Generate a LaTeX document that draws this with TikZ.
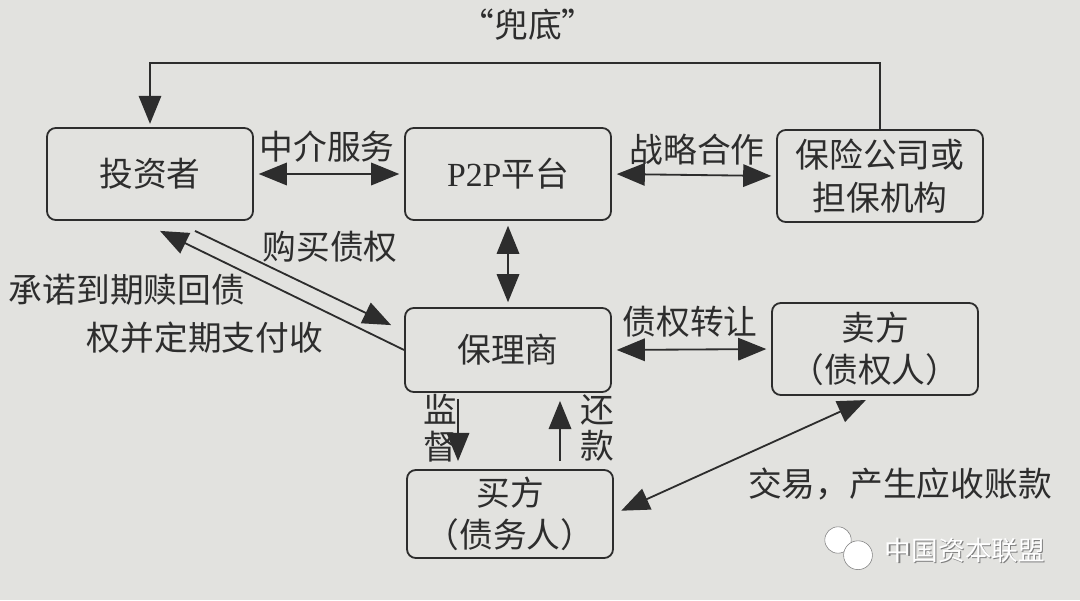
\documentclass[tikz,border=0pt]{standalone}
\usepackage{fontspec}
\setmainfont{Liberation Serif}
\newfontfamily\cjk{Noto Sans CJK SC}
\usetikzlibrary{arrows.meta}
\definecolor{paper}{RGB}{226,226,223}
\definecolor{ink}{RGB}{45,45,45}

\begin{document}
\begin{tikzpicture}[
        box/.style={draw=ink, line width=1.3pt, rounded corners=0.22cm, minimum width=5.15cm, minimum height=2.3cm, align=center, text=ink, font=\cjk\fontsize{24}{30}\selectfont},
        lbl/.style={text=ink, font=\cjk\fontsize{24}{26}\selectfont, align=center, inner sep=0pt},
        link/.style={draw=ink, line width=1.3pt, arrows={-Triangle[length=20pt,width=16pt]}},
        both/.style={draw=ink, line width=1.3pt, arrows={Triangle[length=20pt,width=16pt]-Triangle[length=20pt,width=16pt]}, shorten <=0.12cm, shorten >=0.12cm}
    ]
        \fill[paper] (0,0) rectangle (27,15);
        \useasboundingbox (0,0) rectangle (27,15);

        \node[box] (inv) at (3.75,10.65) {投资者};
        \node[box] (p2p) at (12.7,10.65) {{\rmfamily P2P}平台};
        \node[box] (ins) at (22.0,10.6) {保险公司或\\担保机构};
        \node[box, minimum height=2.1cm] (fac) at (12.7,6.25) {保理商};
        \node[box] (sel) at (21.875,6.275) {卖方\\（债权人）};
        \node[box, minimum height=2.2cm] (buy) at (12.75,2.15) {买方\\（债务人）};

        \draw[both] (inv.east) -- (p2p.west);
        \draw[both] (p2p.east) -- (ins.west);
        \draw[both] (p2p.south) -- (fac.north);
        \draw[both] (fac.east) -- (sel.west);
        \coordinate (corner) at (3.75,13.43);
        \draw[link, shorten >=0.08cm] (ins.north) |- (corner) -- (inv.north);
        \draw[link] ([xshift=1.125cm,yshift=-0.25cm]inv.south) -- ([xshift=-0.325cm,yshift=-0.45cm]fac.north west);
        \draw[link] (fac.west) -- ([xshift=0.25cm,yshift=-0.25cm]inv.south);
        \draw[link, shorten <=0.15cm, shorten >=0.2cm] ([xshift=-1.25cm]fac.south) -- ([xshift=-1.3cm]buy.north);
        \draw[link, shorten <=0.2cm, shorten >=0.2cm] ([xshift=1.25cm]buy.north) -- ([xshift=1.3cm]fac.south);
        \draw[both, shorten <=0.2cm, shorten >=0.25cm] (buy.east) -- (sel.south);

        \node[lbl] (lmid) at (8.175,11.325) {中介服务};
        \node[lbl] (lcoop) at (17.425,11.25) {战略合作};
        \node[lbl] (lback) at (13.2,14.375) {“兜底”};
        \node[lbl] (lbuy) at (8.25,8.825) {购买债权};
        \node[lbl] (lprom1) at (3.175,7.75) {承诺到期赎回债};
        \node[lbl] (lprom2) at (5.125,6.55) {权并定期支付收};
        \node[lbl] (ltrans) at (17.25,6.95) {债权转让};
        \node[lbl] (lsup) at (11.0,4.3) {监\\督};
        \node[lbl] (lpay) at (14.925,4.3) {还\\款};
        \node[lbl] (ltrade) at (22.5,2.9) {交易，产生应收账款};

        % watermark
        \draw[gray, fill=white] (20.95,1.5) circle (0.33);
        \draw[gray, fill=white] (21.45,1.12) circle (0.36);
        \node[font=\cjk\fontsize{19}{19}\selectfont, text=gray] (markshade) at (24.155,1.22) {中国资本联盟};
        \node[font=\cjk\fontsize{19}{19}\selectfont, text=white] (mark) at (24.125,1.25) {中国资本联盟};
\end{tikzpicture}
\end{document}
